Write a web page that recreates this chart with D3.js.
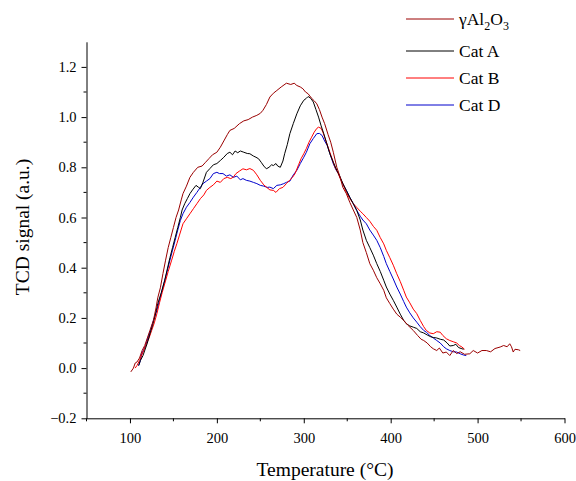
<!DOCTYPE html>
<html>
<head>
<meta charset="utf-8">
<script src="https://cdn.jsdelivr.net/npm/d3@7"></script>
<style>
  html, body { margin: 0; padding: 0; background: #fff; }
  svg text { font-family: "Liberation Serif", "DejaVu Serif", serif; fill: #000; }
  .axis path, .axis line { stroke: #000; stroke-width: 1; }
</style>
</head>
<body>
<div id="chart"></div>
<script>
// --- Data ---
const xTicks = [100, 200, 300, 400, 500, 600];
const xMinor = [50, 150, 250, 350, 450, 550];
const yTicks = [-0.2, 0, 0.2, 0.4, 0.6, 0.8, 1.0, 1.2];
const yMinor = [-0.1, 0.1, 0.3, 0.5, 0.7, 0.9, 1.1];

const seriesNames = ["γAl2O3", "Cat A", "Cat B", "Cat D"];
const seriesColors = ["#9a0000", "#000000", "#ff0000", "#0000cc"];

const gammaAl2O3 = [[101,-0.015],[104,0.0],[106,0.02],[108,0.024],[111,0.04],[114,0.07],[117,0.09],[120,0.12],[123,0.15],[127,0.19],[130,0.24],[132,0.28],[135,0.32],[138,0.377],[141,0.43],[144,0.48],[147,0.52],[150,0.56],[153,0.6],[156,0.63],[159,0.67],[161,0.695],[165,0.725],[169,0.76],[173,0.78],[178,0.80],[183,0.805],[187,0.82],[191,0.835],[195,0.85],[200,0.86],[204,0.88],[208,0.905],[212,0.93],[215,0.947],[220,0.955],[226,0.974],[231,0.985],[236,0.99],[241,1.0],[246,1.007],[250,1.015],[253,1.027],[257,1.05],[261,1.08],[265,1.095],[269,1.106],[274,1.12],[280,1.135],[285,1.13],[289,1.135],[292,1.126],[296,1.12],[299,1.113],[302,1.1],[305,1.093],[309,1.075],[312,1.065],[315,1.053],[318,1.03],[321,1.0],[324,0.974],[328,0.93],[331,0.9],[334,0.86],[338,0.80],[341,0.77],[345,0.72],[349,0.695],[353,0.66],[357,0.63],[361,0.60],[365,0.55],[368,0.50],[372,0.46],[376,0.416],[380,0.39],[384,0.36],[388,0.336],[392,0.31],[395,0.28],[399,0.257],[403,0.235],[407,0.215],[411,0.203],[415,0.19],[420,0.17],[426,0.15],[431,0.13],[435,0.115],[438,0.11],[442,0.1],[446,0.085],[449,0.077],[453,0.07],[456,0.08],[460,0.06],[464,0.064],[468,0.05],[472,0.07],[476,0.058],[480,0.065],[485,0.055],[491,0.057],[495,0.07],[500,0.06],[505,0.07],[510,0.07],[515,0.065],[520,0.078],[526,0.084],[530,0.09],[534,0.085],[537,0.097],[539,0.085],[541,0.064],[543,0.075],[547,0.073],[549,0.07]];

const catA = [[110,0.01],[112,0.03],[115,0.05],[118,0.08],[120,0.10],[123,0.137],[126,0.17],[129,0.21],[132,0.257],[136,0.30],[140,0.35],[143,0.395],[146,0.44],[149,0.48],[152,0.52],[155,0.56],[158,0.60],[160,0.63],[163,0.655],[166,0.675],[169,0.695],[172,0.71],[176,0.728],[179,0.72],[181,0.715],[184,0.74],[188,0.78],[192,0.795],[196,0.81],[200,0.815],[204,0.827],[208,0.84],[212,0.855],[215,0.86],[218,0.85],[221,0.865],[224,0.858],[227,0.865],[231,0.86],[235,0.855],[238,0.854],[242,0.845],[245,0.84],[248,0.834],[251,0.82],[254,0.805],[257,0.794],[260,0.8],[263,0.81],[265,0.807],[268,0.815],[270,0.805],[273,0.80],[276,0.825],[278,0.854],[281,0.89],[284,0.934],[288,0.975],[292,1.013],[296,1.045],[300,1.067],[303,1.075],[305,1.082],[308,1.075],[311,1.06],[314,1.03],[317,1.0],[320,0.965],[323,0.934],[326,0.9],[330,0.854],[334,0.82],[338,0.788],[342,0.76],[345,0.735],[349,0.708],[353,0.68],[357,0.655],[361,0.628],[365,0.59],[368,0.55],[372,0.509],[376,0.48],[380,0.45],[384,0.416],[388,0.385],[392,0.35],[395,0.323],[399,0.295],[403,0.27],[407,0.243],[411,0.215],[415,0.19],[418,0.177],[422,0.168],[426,0.163],[430,0.158],[434,0.145],[438,0.14],[442,0.132],[446,0.125],[449,0.122],[453,0.12],[457,0.115],[461,0.112],[465,0.1],[468,0.088],[472,0.09],[475,0.095],[478,0.082],[482,0.077],[484,0.075]];

const catB = [[106,0.0],[108,0.01],[111,0.03],[114,0.055],[117,0.08],[119,0.097],[122,0.12],[125,0.15],[128,0.18],[131,0.217],[134,0.26],[137,0.3],[140,0.336],[144,0.385],[148,0.43],[151,0.465],[154,0.496],[157,0.53],[161,0.575],[165,0.595],[169,0.615],[173,0.635],[177,0.655],[181,0.675],[185,0.69],[188,0.708],[192,0.72],[196,0.73],[200,0.745],[204,0.74],[208,0.755],[212,0.76],[216,0.755],[219,0.761],[222,0.775],[226,0.785],[230,0.794],[234,0.79],[238,0.795],[242,0.788],[246,0.77],[250,0.748],[254,0.73],[257,0.721],[261,0.71],[265,0.708],[268,0.7],[272,0.715],[276,0.72],[280,0.735],[284,0.75],[287,0.76],[290,0.775],[294,0.81],[297,0.835],[300,0.854],[303,0.875],[306,0.9],[309,0.92],[312,0.94],[315,0.955],[317,0.96],[320,0.955],[322,0.94],[325,0.91],[328,0.88],[332,0.84],[336,0.80],[339,0.78],[342,0.755],[345,0.735],[349,0.70],[353,0.675],[357,0.655],[361,0.64],[365,0.625],[368,0.615],[372,0.60],[376,0.585],[380,0.565],[384,0.549],[388,0.52],[392,0.495],[395,0.469],[399,0.44],[403,0.41],[407,0.376],[411,0.345],[415,0.31],[418,0.283],[422,0.26],[426,0.235],[430,0.217],[434,0.19],[438,0.165],[441,0.15],[445,0.14],[449,0.137],[453,0.145],[457,0.143],[460,0.13],[464,0.117],[468,0.11],[472,0.105],[476,0.1],[479,0.09],[482,0.084],[485,0.075]];

const catD = [[110,0.01],[112,0.03],[113.5,0.057],[116,0.075],[118,0.09],[121,0.124],[124,0.155],[127,0.19],[131,0.23],[134,0.27],[138,0.323],[142,0.375],[146,0.43],[149,0.47],[152,0.509],[155,0.55],[158,0.588],[161,0.615],[165,0.641],[169,0.66],[173,0.681],[177,0.7],[181,0.72],[184,0.735],[188,0.745],[192,0.755],[196,0.775],[200,0.78],[203,0.775],[207,0.775],[211,0.765],[215,0.77],[219,0.76],[223,0.765],[227,0.75],[230,0.755],[234,0.748],[238,0.745],[242,0.74],[246,0.735],[250,0.728],[254,0.725],[258,0.72],[261,0.721],[265,0.715],[269,0.728],[273,0.73],[277,0.735],[280,0.74],[284,0.745],[288,0.77],[292,0.788],[296,0.815],[300,0.84],[303,0.86],[307,0.894],[311,0.915],[315,0.934],[318,0.935],[321,0.927],[324,0.905],[327,0.887],[330,0.855],[334,0.814],[337,0.79],[340,0.775],[344,0.74],[349,0.708],[353,0.68],[357,0.655],[361,0.628],[365,0.605],[368,0.59],[372,0.575],[376,0.55],[380,0.53],[384,0.509],[388,0.48],[392,0.445],[395,0.416],[399,0.385],[403,0.355],[407,0.323],[411,0.295],[415,0.265],[418,0.243],[422,0.22],[426,0.2],[430,0.183],[434,0.165],[438,0.15],[441,0.143],[445,0.13],[449,0.12],[453,0.11],[457,0.1],[461,0.085],[464,0.077],[468,0.07],[472,0.065],[476,0.064],[480,0.057],[484,0.052],[487,0.05]];

const allSeries = [gammaAl2O3, catA, catB, catD];

// --- Layout ---
const W = 576, H = 481;
const plot = { left: 86.5, right: 564.5, top: 41.8, bottom: 418.3 };

const svg = d3.select("#chart").append("svg")
  .attr("width", W).attr("height", H);

const x = d3.scaleLinear().domain([50, 600]).range([plot.left, plot.right]);
const y = d3.scaleLinear().domain([-0.2, 1.3]).range([plot.bottom, plot.top]);

// Axe X
const gx = svg.append("g").attr("class", "axis")
  .attr("transform", `translate(0,${plot.bottom})`)
  .call(d3.axisBottom(x).tickValues(xTicks).tickSize(5).tickSizeOuter(0).tickPadding(9));
gx.selectAll("text").style("font-size", "14.5px");
gx.selectAll(".minor").data(xMinor).enter().append("line")
  .attr("class", "minor")
  .attr("x1", d => x(d)).attr("x2", d => x(d))
  .attr("y1", 0).attr("y2", 3)
  .attr("stroke", "#000");

// Axe Y
const gy = svg.append("g").attr("class", "axis")
  .attr("transform", `translate(${plot.left},0)`)
  .call(d3.axisLeft(y).tickValues(yTicks).tickSize(5).tickSizeOuter(0).tickPadding(5)
    .tickFormat(d3.format(".1f")));
gy.selectAll("text").style("font-size", "14.5px");
gy.selectAll(".minor").data(yMinor).enter().append("line")
  .attr("class", "minor")
  .attr("x1", 0).attr("x2", -3)
  .attr("y1", d => y(d)).attr("y2", d => y(d))
  .attr("stroke", "#000");

// Titres des axes
svg.append("text")
  .attr("x", 325)
  .attr("y", 476)
  .attr("text-anchor", "middle")
  .style("font-size", "19.5px")
  .text("Temperature (°C)");

svg.append("text")
  .attr("transform", "rotate(-90)")
  .attr("x", -227)
  .attr("y", 29)
  .attr("text-anchor", "middle")
  .style("font-size", "19.5px")
  .text("TCD signal (a.u.)");

// Courbes
const line = d3.line().x(d => x(d[0])).y(d => y(d[1]));
// ordre : bleu, rouge, noir, rouge foncé au-dessus
[3, 2, 1, 0].forEach(i => {
  svg.append("path")
    .datum(allSeries[i])
    .attr("d", line)
    .attr("fill", "none")
    .attr("stroke", seriesColors[i])
    .attr("stroke-width", 1);
});

// Légende
const legendY = [19, 51, 78, 105];
const legend = svg.selectAll(".legend")
  .data(seriesNames)
  .enter().append("g")
  .attr("class", "legend")
  .attr("transform", (d, i) => `translate(406,${legendY[i]})`);

legend.append("line")
  .attr("x1", 0).attr("x2", 48)
  .attr("y1", 0).attr("y2", 0)
  .attr("stroke", (d, i) => seriesColors[i])
  .attr("stroke-width", 1);

legend.each(function(d, i) {
  const t = d3.select(this).append("text")
    .attr("x", 53).attr("y", 6)
    .style("font-size", "17.5px");
  if (i === 0) {
    t.append("tspan").text("γAl");
    t.append("tspan").attr("dy", 5).style("font-size", "12px").text("2");
    t.append("tspan").attr("dy", -5).text("O");
    t.append("tspan").attr("dy", 5).style("font-size", "12px").text("3");
  } else {
    t.text(d);
  }
});
</script>
</body>
</html>
